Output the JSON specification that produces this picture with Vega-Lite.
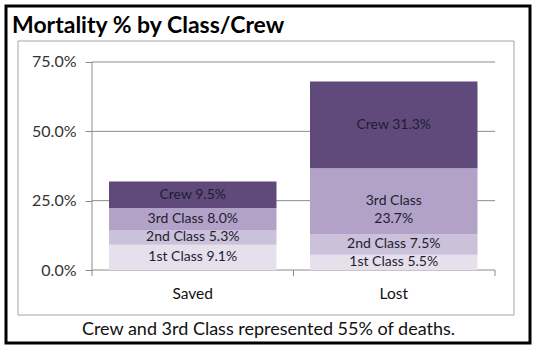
{
  "$schema": "https://vega.github.io/schema/vega-lite/v6.json",
  "width": 524,
  "height": 337,
  "autosize": {"type": "none"},
  "padding": {"left": 6, "top": 6, "right": 8, "bottom": 8},
  "background": "white",
  "config": {"view": {"stroke": "#000000", "strokeWidth": 3}, "font": "Lato"},
  "title": {"text": "Mortality % by Class/Crew", "anchor": "start", "frame": "group", "orient": "top", "fontSize": 23, "fontWeight": "bold", "font": "Lato", "color": "#000000", "baseline": "alphabetic", "offset": -50, "dx": 6},
  "data": {"values": [
    {"outcome": "Saved", "cls": "1st Class", "pct": 9.1, "label": "1st Class 9.1%"},
    {"outcome": "Saved", "cls": "2nd Class", "pct": 5.3, "label": "2nd Class 5.3%"},
    {"outcome": "Saved", "cls": "3rd Class", "pct": 8.0, "label": "3rd Class 8.0%"},
    {"outcome": "Saved", "cls": "Crew", "pct": 9.5, "label": "Crew 9.5%"},
    {"outcome": "Lost", "cls": "1st Class", "pct": 5.5, "label": "1st Class 5.5%"},
    {"outcome": "Lost", "cls": "2nd Class", "pct": 7.5, "label": "2nd Class 7.5%"},
    {"outcome": "Lost", "cls": "3rd Class", "pct": 23.7, "label": "3rd Class\n23.7%"},
    {"outcome": "Lost", "cls": "Crew", "pct": 31.3, "label": "Crew 31.3%"}
  ]},
  "layer": [
    {
      "data": {"values": [{}]},
      "mark": {"type": "rect", "fill": "transparent", "stroke": "#a6a6a6", "strokeWidth": 1},
      "encoding": {
        "x": {"datum": "Saved", "bandPosition": -0.5433},
        "x2": {"datum": "Lost", "bandPosition": 1.2179},
        "y": {"datum": 82.57, "type": "quantitative", "scale": {"domain": [-26.32, 95.19], "nice": false, "zero": false}},
        "y2": {"datum": -16.23}
      }
    },
    {
      "data": {"values": [{"g": 0}, {"g": 25}, {"g": 50}, {"g": 75}]},
      "mark": {"type": "rule", "color": "#8c8c8c", "strokeWidth": 1},
      "encoding": {
        "x": {"datum": "Saved", "bandPosition": -0.1015},
        "x2": {"datum": "Lost", "bandPosition": 1.1045},
        "y": {"field": "g", "type": "quantitative", "scale": {"domain": [-26.32, 95.19], "nice": false, "zero": false}}
      }
    },
    {
      "transform": [
        {"stack": "pct", "groupby": ["outcome"], "sort": [{"field": "cls", "order": "ascending"}], "as": ["v0", "v1"]}
      ],
      "mark": {"type": "bar"},
      "encoding": {
        "x": {
          "field": "outcome", "type": "nominal",
          "scale": {"domain": ["Saved", "Lost"], "paddingInner": 0.1667, "paddingOuter": 0.3868, "align": 0.6624},
          "axis": {"orient": "bottom", "offset": -73, "domain": false, "ticks": false, "grid": false, "labelPadding": 23, "labelFontSize": 15.5, "labelAngle": 0, "labelAlign": "center", "labelColor": "#111111", "labelFont": "Lato",
                   "title": "Crew and 3rd Class represented 55% of deaths.", "titleFont": "Lato", "titleFontSize": 18, "titleFontWeight": "normal", "titlePadding": 19, "titleColor": "#111111"}
        },
        "y": {
          "field": "v0", "type": "quantitative",
          "scale": {"domain": [-26.32, 95.19], "nice": false, "zero": false},
          "axis": {"values": [0, 25, 50, 75], "offset": -86, "domain": false, "grid": false, "ticks": true, "tickSize": 7, "tickColor": "#8c8c8c", "labelPadding": 9, "labelExpr": "format(datum.value, '.1f') + '%'", "labelFont": "Lato", "labelFontSize": 16, "labelColor": "#333333", "title": null}
        },
        "y2": {"field": "v1"},
        "color": {
          "field": "cls", "type": "nominal",
          "scale": {"domain": ["1st Class", "2nd Class", "3rd Class", "Crew"], "range": ["#e6e0ec", "#ccc1da", "#b3a2c7", "#604a7b"]},
          "legend": null
        }
      }
    },
    {
      "transform": [
        {"stack": "pct", "groupby": ["outcome"], "sort": [{"field": "cls", "order": "ascending"}], "as": ["v0", "v1"]},
        {"fold": ["v0", "v1"], "as": ["k", "v"]},
        {"aggregate": [{"op": "mean", "field": "v", "as": "mid"}], "groupby": ["outcome", "cls", "label"]}
      ],
      "mark": {"type": "text", "lineBreak": "\n", "align": "center", "baseline": "middle", "fontSize": 14, "font": "Lato", "color": "#1e1e30", "lineHeight": 18},
      "encoding": {
        "x": {"field": "outcome", "type": "nominal"},
        "y": {"field": "mid", "type": "quantitative", "scale": {"domain": [-26.32, 95.19], "nice": false, "zero": false}},
        "text": {"field": "label"}
      }
    },
    {
      "data": {"values": [{}]},
      "mark": {"type": "rule", "color": "#8c8c8c", "strokeWidth": 1},
      "encoding": {
        "x": {"datum": "Saved", "bandPosition": -0.1015},
        "y": {"datum": -2.16, "type": "quantitative", "scale": {"domain": [-26.32, 95.19], "nice": false, "zero": false}},
        "y2": {"datum": 75}
      }
    },
    {
      "data": {"values": [{}]},
      "mark": {"type": "rule", "color": "#8c8c8c", "strokeWidth": 1},
      "encoding": {
        "x": {"datum": "Lost", "bandPosition": -0.0985},
        "y": {"datum": -2.16, "type": "quantitative", "scale": {"domain": [-26.32, 95.19], "nice": false, "zero": false}},
        "y2": {"datum": 0}
      }
    },
    {
      "data": {"values": [{}]},
      "mark": {"type": "rule", "color": "#8c8c8c", "strokeWidth": 1},
      "encoding": {
        "x": {"datum": "Lost", "bandPosition": 1.1045},
        "y": {"datum": -2.16, "type": "quantitative", "scale": {"domain": [-26.32, 95.19], "nice": false, "zero": false}},
        "y2": {"datum": 0}
      }
    }
  ]
}
